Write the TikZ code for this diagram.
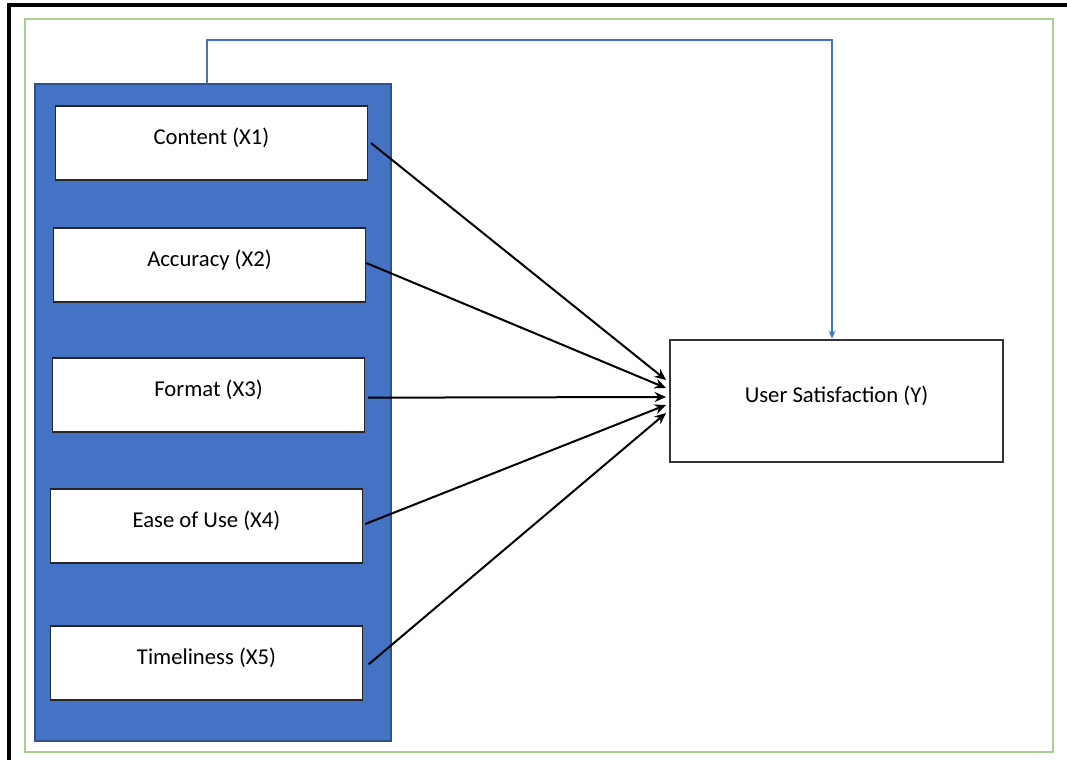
\documentclass[tikz,border=0pt]{standalone}
\usepackage{fontspec}
\setmainfont{Carlito}
\usetikzlibrary{arrows.meta,calc}
\definecolor{frameblue}{HTML}{4472C4}
\definecolor{darkblue}{HTML}{2F528F}
\definecolor{framegreen}{HTML}{A9D18E}
\newcommand{\uptext}[1]{\raisebox{-1pt}[0pt][0pt]{#1}}
\tikzset{
  varbox/.style={draw=black!85, line width=1.2pt, fill=white, minimum width=234pt, minimum height=55.5pt, inner sep=0pt, font=\fontsize{17}{20}\selectfont},
  ybox/.style={draw=black!80, line width=1pt, fill=white, minimum width=249.75pt, minimum height=91.5pt, inner sep=0pt, font=\fontsize{17}{20}\selectfont},
  blackarrow/.style={line width=1.5pt, -{Stealth[length=8.5pt,width=7.5pt]}},
  bluearrow/.style={draw=frameblue, line width=1.3pt, -{Stealth[length=6pt,width=5pt]}}
}
\begin{document}
\begin{tikzpicture}[x=0.75pt,y=-0.75pt]
\useasboundingbox (0,0) rectangle (1067,760);
\fill[white] (0,0) rectangle (1067,760);
% outer black frame (cropped)
\draw[black, line width=2.4pt] (9,760) -- (9,5) -- (1067,5);
% green frame
\draw[framegreen, line width=1.5pt] (25,19) rectangle (1053,752);
% blue group
\node[draw=darkblue, line width=0.8pt, fill=frameblue, minimum width=267pt, minimum height=492.75pt, inner sep=0pt] (grp) at (213,412.5) {};
% variable boxes
\node[varbox] (x1) at (211.5,143) {\uptext{Content (X1)}};
\node[varbox] (x2) at (209.5,265) {\uptext{Accuracy (X2)}};
\node[varbox] (x3) at (208.5,395) {\uptext{Format (X3)}};
\node[varbox] (x4) at (206.5,526) {\uptext{Ease of Use (X4)}};
\node[varbox] (x5) at (206.5,663) {\uptext{Timeliness (X5)}};
% dependent
\node[ybox] (y) at (836.5,401) {\uptext{User Satisfaction (Y)}};
% arrow end points
\coordinate (e1) at (666,380);
\coordinate (e2) at (666,388);
\coordinate (e3) at (666,397);
\coordinate (e4) at (666,405);
\coordinate (e5) at (666,413);
\draw[blackarrow] ([xshift=2pt]x1.east) -- (e1);
\draw[blackarrow] ([yshift=1.5pt]x2.east) -- (e2);
\draw[blackarrow] ([xshift=2pt,yshift=-2pt]x3.east) -- (e3);
\draw[blackarrow] ([xshift=1.5pt,yshift=1.5pt]x4.east) -- (e4);
\draw[blackarrow] ([xshift=4pt,yshift=-1pt]x5.east) -- (e5);
% blue connector
\coordinate (gtop) at (207,84);
\draw[bluearrow] (gtop) -- (207,40) -- (832,40) -- ([yshift=0.5pt]y.north -| 832,0);
\end{tikzpicture}
\end{document}
